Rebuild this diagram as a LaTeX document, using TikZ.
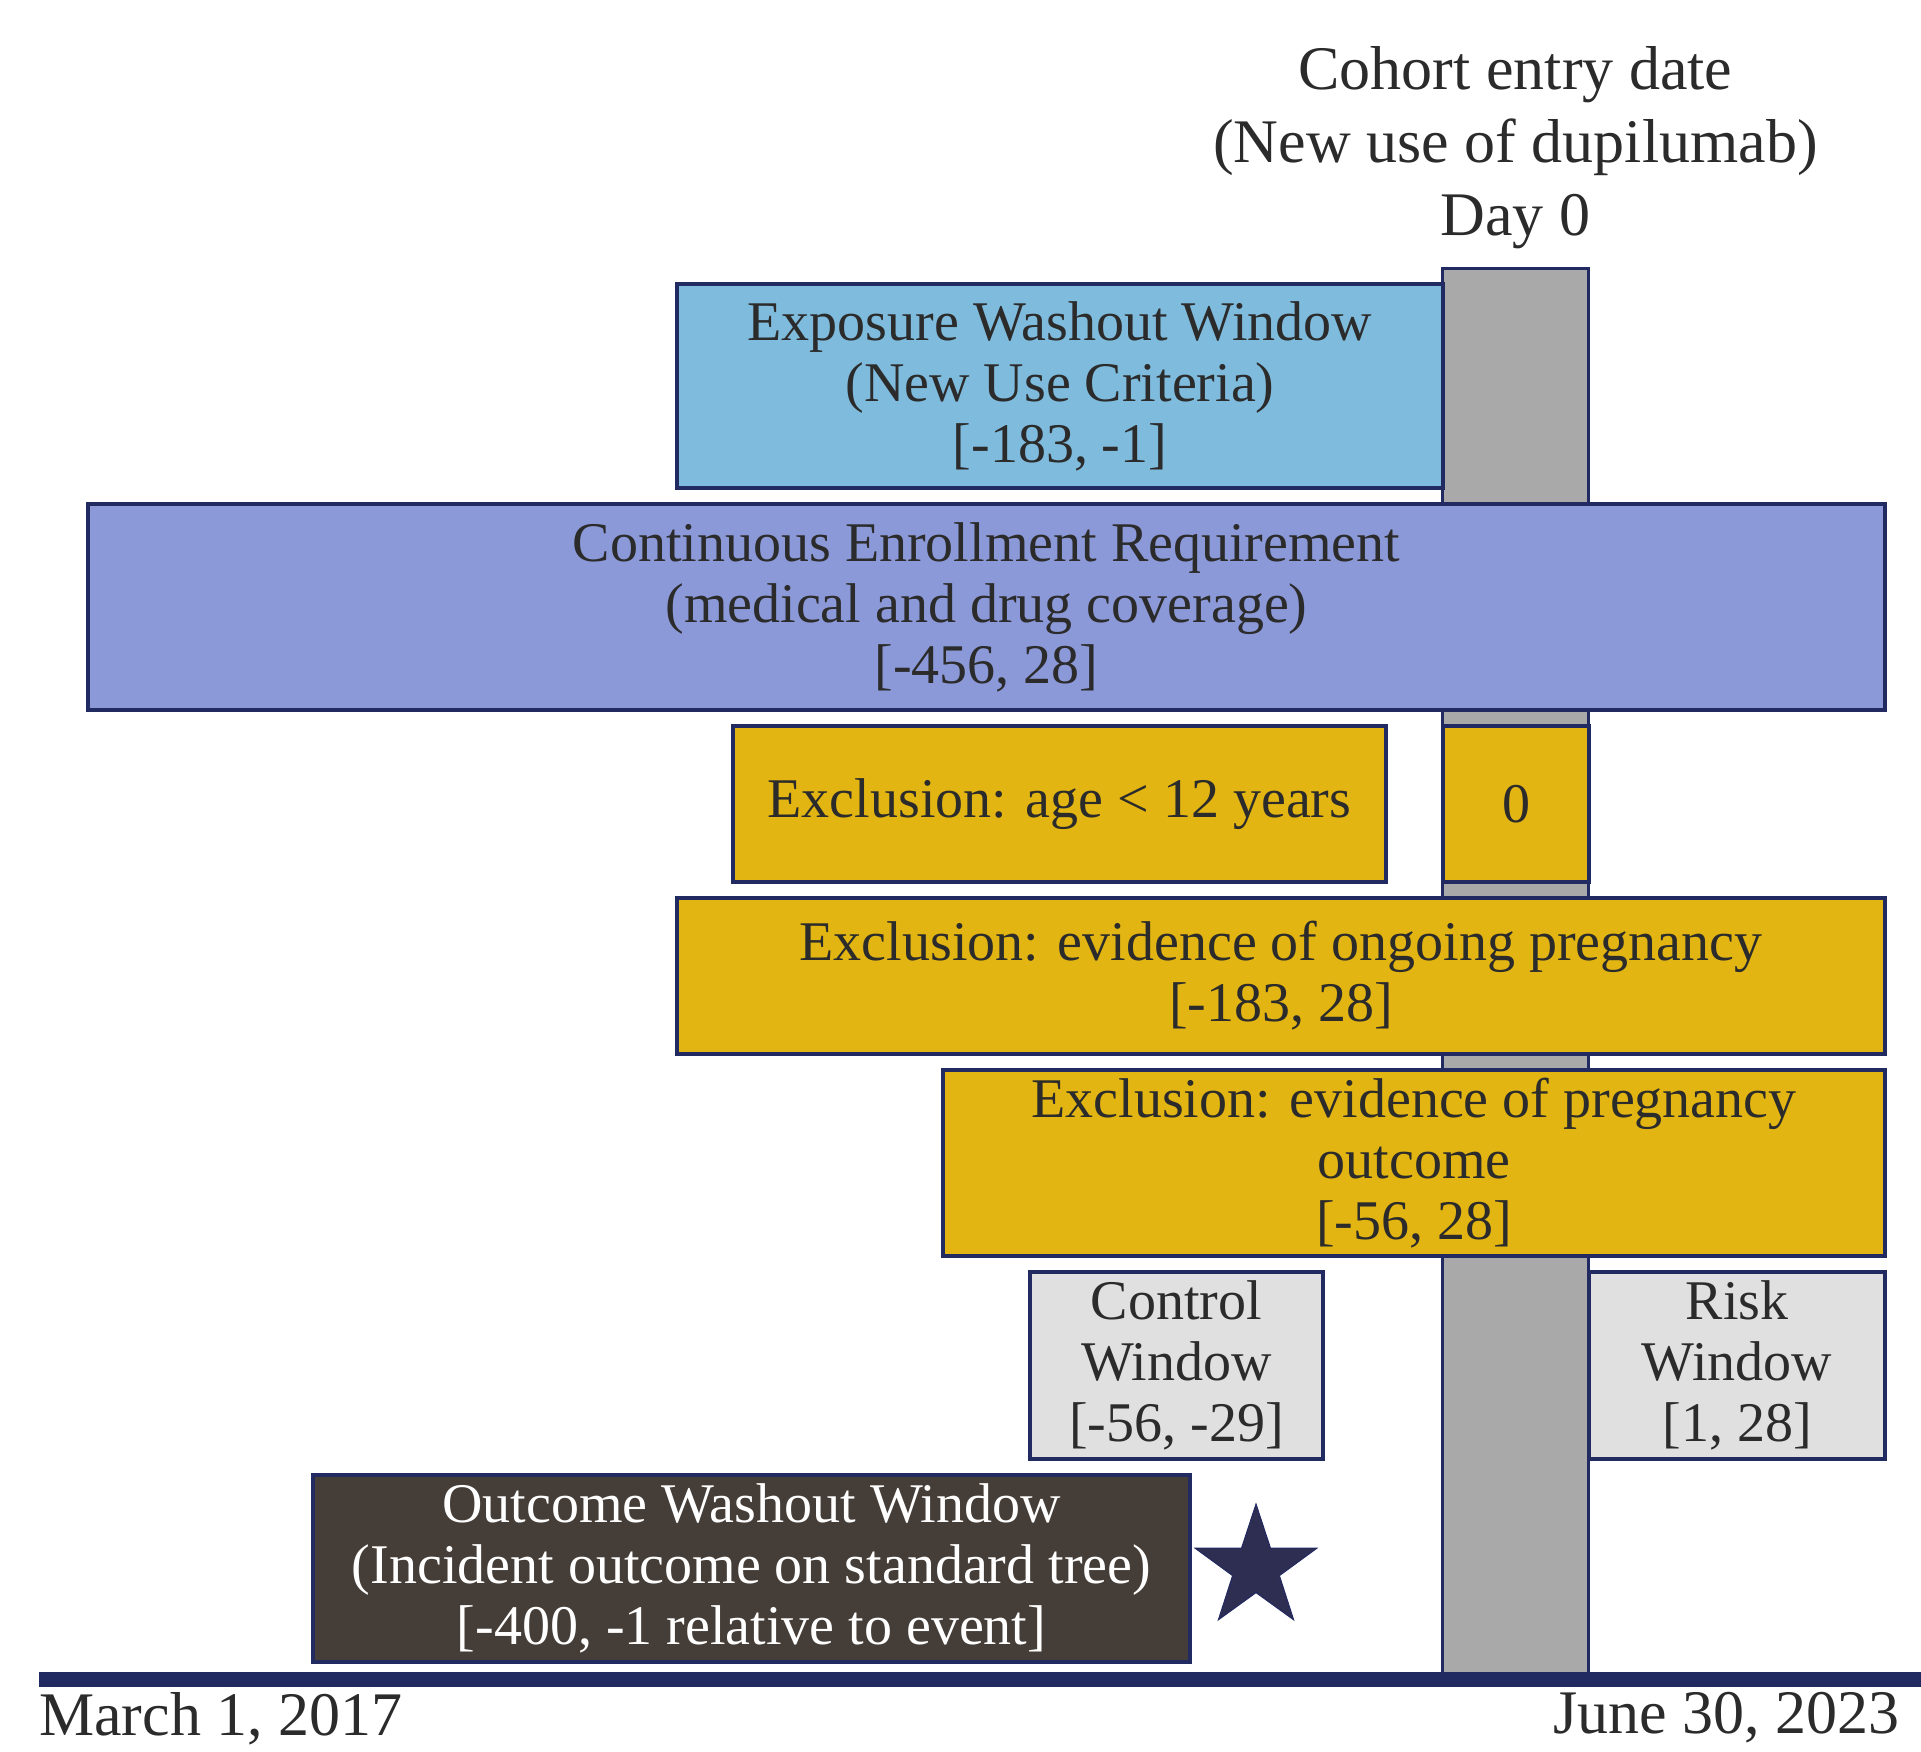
\documentclass[tikz,border=0pt]{standalone}
\usepackage{fontspec}
\setmainfont{Liberation Serif}
\usepackage{xcolor}
\usepackage{tikz}
\usetikzlibrary{shapes,positioning}

\definecolor{navy}{HTML}{222A62}
\definecolor{barGray}{HTML}{A9A9A9}
\definecolor{washBlue}{HTML}{7FBBDC}
\definecolor{enrollBlue}{HTML}{8C99D8}
\definecolor{exclGold}{HTML}{E2B512}
\definecolor{winGray}{HTML}{E0E0E0}
\definecolor{outBrown}{HTML}{453D37}
\definecolor{starNavy}{HTML}{2E2D52}
\definecolor{inkText}{HTML}{2B2B2B}

\tikzset{
    window/.style={rectangle, draw=navy, line width=4pt, anchor=north west, align=center,
        inner sep=0pt, text=inkText, font=\fontsize{56}{61}\selectfont},
    datelabel/.style={inner sep=0pt, anchor=north west, text=inkText, font=\fontsize{62}{73}\selectfont}
}

\begin{document}
\begin{tikzpicture}[x=1pt, y=-1pt]
    \useasboundingbox (0,0) rectangle (1921,1751);
    \clip (0,0) rectangle (1921,1751);

    \node (bar) [rectangle, draw=navy, line width=3pt, fill=barGray, anchor=north west, inner sep=0pt, minimum width=146pt, minimum height=1405pt] at (1441,267) {};
    \node (entry) [above=18pt of bar, inner sep=0pt, align=center, text=inkText, font=\fontsize{62}{73}\selectfont] {Cohort entry date\\(New use of dupilumab)\\Day 0};

    \node (exposure) [window, fill=washBlue, minimum width=766pt, minimum height=204pt] at (675,282) {Exposure Washout Window\\(New Use Criteria)\\{[}-183, -1]};
    \node (enroll) [window, fill=enrollBlue, minimum width=1797pt, minimum height=206pt] at (86,502) {Continuous Enrollment Requirement\\(medical and drug coverage)\\{[}-456, 28]};
    \node (age) [window, fill=exclGold, minimum width=653pt, minimum height=156pt] at (731,724) {Exclusion: age < 12 years};
    \node (zero) [window, fill=exclGold, minimum width=146pt, minimum height=156pt] at (1441,724) {0};
    \node (ongoing) [window, fill=exclGold, minimum width=1208pt, minimum height=156pt] at (675,896) {Exclusion: evidence of ongoing pregnancy\\{[}-183, 28]};
    \node (pregout) [window, fill=exclGold, minimum width=942pt, minimum height=186pt] at (941,1068) {Exclusion: evidence of pregnancy\\outcome\\{[}-56, 28]};
    \node (control) [window, fill=winGray, minimum width=293pt, minimum height=187pt] at (1028,1270) {Control\\Window\\{[}-56, -29]};
    \node (risk) [window, fill=winGray, minimum width=296pt, minimum height=187pt] at (1587,1270) {Risk\\Window\\{[}1, 28]};
    \node (outwash) [window, fill=outBrown, text=white, minimum width=877pt, minimum height=187pt] at (311,1473) {Outcome Washout Window\\(Incident outcome on standard tree)\\{[}-400, -1 relative to event]};
    \node (event) [star, star points=5, star point ratio=2.6, draw=navy, line width=1pt, fill=starNavy, inner sep=0pt, minimum size=128pt] at (1256,1568) {};

    \node (axis) [rectangle, fill=navy, anchor=north west, inner sep=0pt, minimum width=1882pt, minimum height=15pt] at (39,1672) {};
    \node (start) [datelabel] at (39,1692) {March 1, 2017};
    \node (stop) [datelabel] at (1553,1692) {June 30, 2023};
\end{tikzpicture}
\end{document}
